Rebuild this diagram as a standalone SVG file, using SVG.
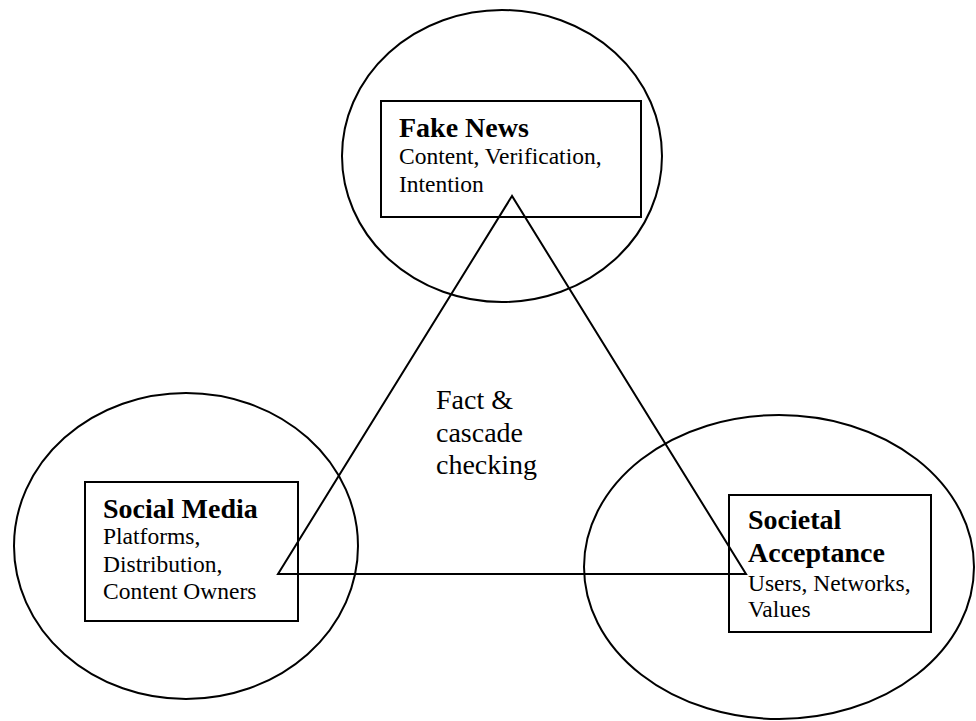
<svg xmlns="http://www.w3.org/2000/svg" width="976" height="721" viewBox="0 0 976 721">
<style>
.sh{fill:none;stroke:#000;stroke-width:2}
.bx{fill:#fff;stroke:#000;stroke-width:2}
.t{font-family:"Liberation Serif","Times New Roman",serif;fill:#000}
.b{font-size:28px;font-weight:bold}
.r{font-size:23.5px}
.c{font-size:28px}
</style>
<rect width="976" height="721" fill="#fff"/>
<g id="ellipses">
<ellipse class="sh" cx="502" cy="156" rx="160" ry="146"/>
<ellipse class="sh" cx="186" cy="546" rx="172" ry="153"/>
<ellipse class="sh" cx="779" cy="567" rx="195" ry="152"/>
</g>
<g id="fake-news">
<rect class="bx" x="381" y="101" width="260" height="116"/>
<text class="t b" x="399" y="137">Fake News</text>
<text class="t r" x="399" y="164">Content, Verification,</text>
<text class="t r" x="399" y="192">Intention</text>
</g>
<g id="social-media">
<rect class="bx" x="85" y="482" width="213" height="139"/>
<text class="t b" x="103" y="518">Social Media</text>
<text class="t r" x="103" y="544">Platforms,</text>
<text class="t r" x="103" y="572">Distribution,</text>
<text class="t r" x="103" y="599">Content Owners</text>
</g>
<g id="societal-acceptance">
<rect class="bx" x="729" y="495" width="202" height="137"/>
<text class="t b" x="748" y="529">Societal</text>
<text class="t b" x="748" y="562">Acceptance</text>
<text class="t r" x="748" y="591">Users, Networks,</text>
<text class="t r" x="748" y="617">Values</text>
</g>
<g id="connectors">
<polygon class="sh" points="512,196 278,574 746,574"/>
</g>
<g id="center-label">
<text class="t c" x="436" y="409">Fact &amp;</text>
<text class="t c" x="436" y="442">cascade</text>
<text class="t c" x="436" y="474">checking</text>
</g>
</svg>
